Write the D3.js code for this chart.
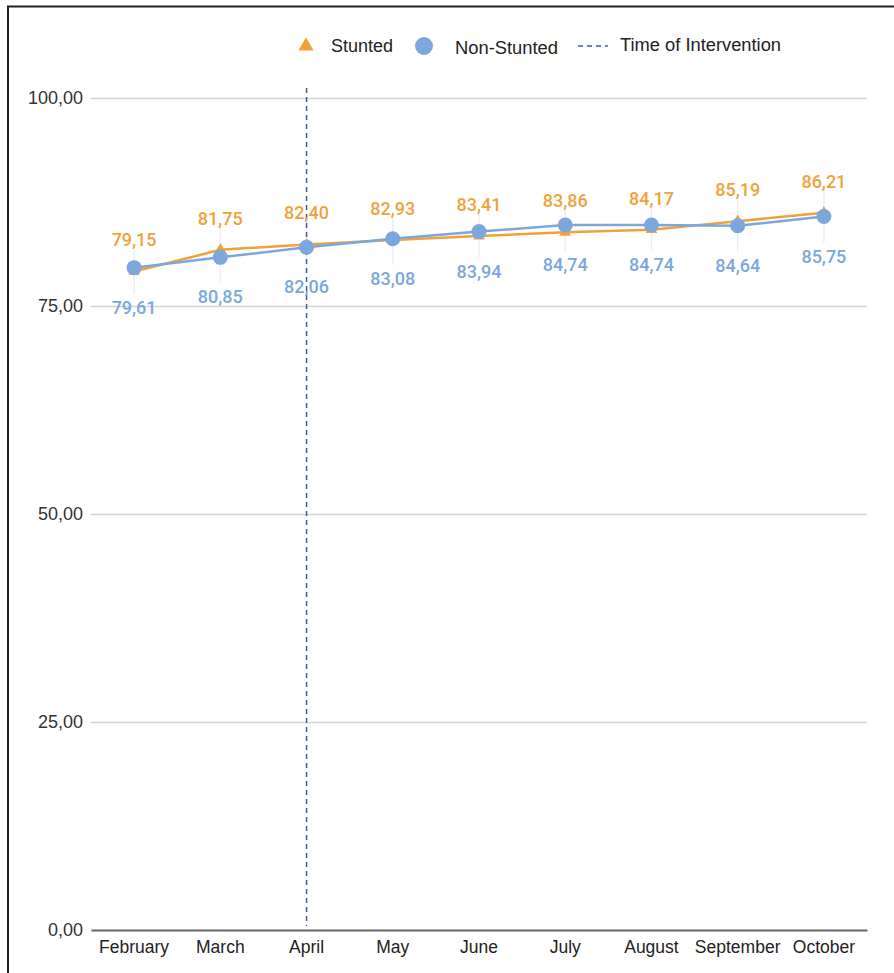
<!DOCTYPE html>
<meta charset="utf-8">
<style>
  body{ margin:0; background:#fff; }
  text{ font-family: "Liberation Sans", Arial, sans-serif; }
  .lbl{ font-family: Roboto, sans-serif; font-size:18px; font-weight:500; }
</style>
<svg width="894" height="973"></svg>
<script src="https://d3js.org/d3.v7.min.js"></script>
<script>
  // data
  const months = ['February','March','April','May','June','July','August','September','October']
  const stunted = [79.15, 81.75, 82.40, 82.93, 83.41, 83.86, 84.17, 85.19, 86.21]
  const nonStunted = [79.61, 80.85, 82.06, 83.08, 83.94, 84.74, 84.74, 84.64, 85.75]
  const yTicks = [0, 25, 50, 75, 100]
  const interventionMonth = 'April'

  const orange = '#f0a23a', blue = '#7ba7dc'
  const m = {left: 91, right: 867, top: 98, bottom: 930}

  const svg = d3.select('svg')

  // frame (left + top only)
  svg.append('path')
    .attr('d', 'M8,973 V6.5 H894')
    .attr('fill', 'none').attr('stroke', '#222').attr('stroke-width', 2)

  const x = d3.scaleBand().domain(months).range([m.left, m.right])
  const y = d3.scaleLinear().domain([0, 100]).range([m.bottom, m.top])
  const cx = d => x(d) + x.bandwidth()/2
  const fmt = d => d3.format('.2f')(d).replace('.', ',')

  // gridlines + y labels
  const yAxis = d3.axisLeft(y).tickValues(yTicks)
    .tickSize(-(m.right - m.left)).tickPadding(8).tickFormat(fmt)
  const gy = svg.append('g').attr('transform', `translate(${m.left},0)`).call(yAxis)
  gy.select('.domain').remove()
  gy.selectAll('line').attr('stroke', '#d4d4d4').attr('stroke-width', 1.5)
  gy.selectAll('text').attr('font-size', 18).attr('fill', '#333')
    .attr('font-family', '"Liberation Sans", Arial, sans-serif')
  gy.selectAll('.tick').filter(d => d === 0).select('line').attr('stroke', 'none')

  // x axis baseline
  const xAxis = d3.axisBottom(x).tickSize(0).tickPadding(11)
  const gx = svg.append('g').attr('transform', `translate(0,${m.bottom})`).call(xAxis)
  gx.select('.domain').attr('stroke', '#666').attr('stroke-width', 2)
  gx.selectAll('text').attr('font-size', 17.5).attr('fill', '#222')
    .attr('font-family', '"Liberation Sans", Arial, sans-serif')

  // leader lines for labels
  months.forEach((mo, i) => {
    svg.append('line')
      .attr('x1', cx(mo)).attr('x2', cx(mo))
      .attr('y1', y(stunted[i]) - 24).attr('y2', y(nonStunted[i]) + 26)
      .attr('stroke', '#eee').attr('stroke-width', 1.5)
  })

  // intervention line
  svg.append('line')
    .attr('x1', cx(interventionMonth)).attr('x2', cx(interventionMonth))
    .attr('y1', 88).attr('y2', 926)
    .attr('stroke', '#3a5aa8').attr('stroke-width', 1.5)
    .attr('stroke-dasharray', '5,4')

  const line = d3.line().x((d, i) => cx(months[i])).y(d => y(d))

  svg.append('path').datum(stunted).attr('d', line)
    .attr('fill', 'none').attr('stroke', orange).attr('stroke-width', 2.5)
  svg.selectAll('.tri').data(stunted).enter().append('path')
    .attr('d', d3.symbol(d3.symbolTriangle, 60))
    .attr('transform', (d, i) => `translate(${cx(months[i])},${y(d)})`)
    .attr('fill', orange)

  svg.append('path').datum(nonStunted).attr('d', line)
    .attr('fill', 'none').attr('stroke', blue).attr('stroke-width', 2.5)
  svg.selectAll('.dot').data(nonStunted).enter().append('circle')
    .attr('cx', (d, i) => cx(months[i])).attr('cy', d => y(d)).attr('r', 7.5)
    .attr('fill', blue)

  svg.selectAll('.ls').data(stunted).enter().append('text').attr('class', 'lbl')
    .attr('x', (d, i) => cx(months[i])).attr('y', d => y(d) - 25)
    .attr('text-anchor', 'middle').attr('fill', orange).text(fmt)

  svg.selectAll('.ln').data(nonStunted).enter().append('text').attr('class', 'lbl')
    .attr('x', (d, i) => cx(months[i])).attr('y', d => y(d) + 46)
    .attr('text-anchor', 'middle').attr('fill', blue).text(fmt)

  // legend
  const lg = svg.append('g').attr('font-size', 18).attr('fill', '#222')
  lg.append('path').attr('d', d3.symbol(d3.symbolTriangle, 100))
    .attr('transform', 'translate(306,46)').attr('fill', orange)
  lg.append('text').attr('x', 331).attr('y', 52).attr('textLength', 62).text('Stunted')
  lg.append('circle').attr('cx', 424).attr('cy', 46).attr('r', 9).attr('fill', blue)
  lg.append('text').attr('x', 455).attr('y', 54).attr('textLength', 103).text('Non-Stunted')
  lg.append('line').attr('x1', 578).attr('x2', 608).attr('y1', 46).attr('y2', 46)
    .attr('stroke', '#3a5aa8').attr('stroke-width', 1.5).attr('stroke-dasharray', '5,4')
  lg.append('text').attr('x', 620).attr('y', 51).attr('textLength', 161).text('Time of Intervention')

  svg.selectAll('text[textLength]').attr('lengthAdjust', 'spacingAndGlyphs')
</script>
